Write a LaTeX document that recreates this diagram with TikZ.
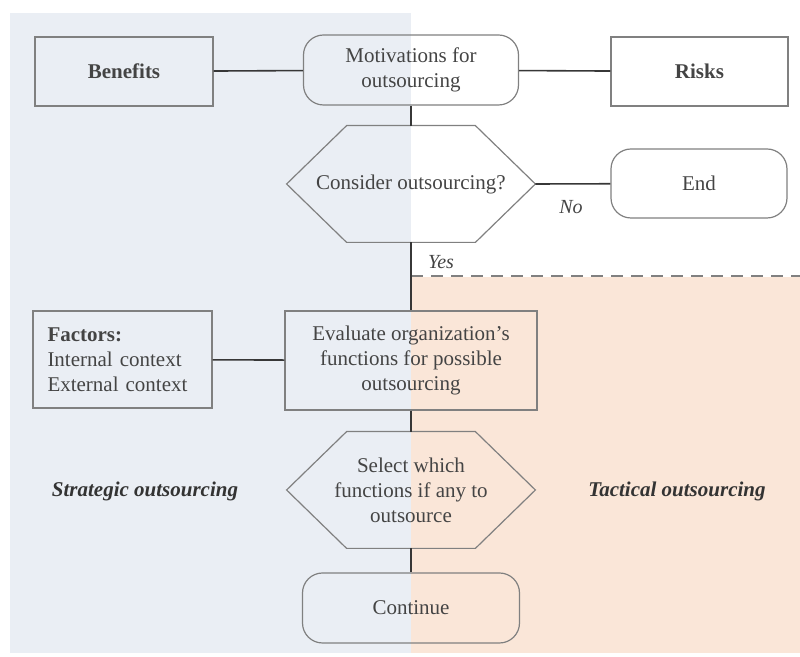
\documentclass[tikz,border=0pt]{standalone}
\usepackage{fontspec}
\setmainfont{Liberation Serif}
\usetikzlibrary{shapes,backgrounds,arrows}
\definecolor{stratblue}{RGB}{234,238,244}
\definecolor{tactpeach}{RGB}{250,230,216}
\definecolor{boxgray}{RGB}{128,128,128}
\definecolor{linegray}{RGB}{55,55,55}
\definecolor{textgray}{RGB}{68,68,68}

\begin{document}
\begin{tikzpicture}[x=0.5pt,y=-0.5pt,
	box/.style={draw=boxgray, line width=0.6pt, text=textgray, align=center,
		font=\fontsize{10.5}{12.5}\selectfont, inner sep=2pt},
	roundbox/.style={box, rounded corners=10pt},
	hexbox/.style={text=textgray, align=center, font=\fontsize{10.5}{12.5}\selectfont,
		minimum width=124pt, minimum height=58pt, inner sep=0pt},
	hexline/.style={draw=boxgray, line width=0.6pt},
	link/.style={draw=linegray, line width=0.8pt},
	answer/.style={text=textgray, font=\fontsize{10}{12}\selectfont\itshape},
	sidelabel/.style={text=black!80, font=\fontsize{10.5}{12.5}\selectfont\bfseries\itshape}]
			\useasboundingbox (0,0) rectangle (800,657);
			% Background panels
			\fill[stratblue] (10,13) rectangle (411,653);
			\fill[tactpeach] (411,277) rectangle (800,653);
			\draw[boxgray, line width=0.6pt, dash pattern=on 6pt off 4pt] (411,276) -- (800,276);
			% Top row
			\node[box, minimum width=89pt, minimum height=34.5pt] (benefits) at (124,71.5) {\bfseries Benefits};
			\node[roundbox, minimum width=107.5pt, minimum height=35pt] (motiv) at (411,70) {Motivations for\\outsourcing};
			\node[box, minimum width=88.5pt, minimum height=34.5pt] (risks) at (699.5,71.5) {\bfseries Risks};
			% Decision
			\node[hexbox] (consider) at (411,184) {Consider outsourcing?};
			\draw[hexline] (consider.west) -- ([xshift=30pt]consider.north west) -- ([xshift=-30pt]consider.north east)
				-- (consider.east) -- ([xshift=-30pt]consider.south east) -- ([xshift=30pt]consider.south west) -- cycle;
			\node[roundbox, minimum width=88pt, minimum height=34.5pt] (end) at (699,183.5) {End};
			\node[answer] (no) at (571,207) {No};
			\node[answer] (yes) at (441,262) {Yes};
			% Bottom part
			\node[box, minimum width=89.5pt, minimum height=48.5pt, align=left, text width=75pt, inner sep=0pt] (factors) at (122.5,359.5)
				{\textbf{Factors:}\\Internal context\\External context};
			\node[box, minimum width=126pt, minimum height=49.5pt] (evaluate) at (411,360.5) {Evaluate organization's\\functions for possible\\outsourcing};
			\node[hexbox] (select) at (411,490) {Select which\\functions if any to\\outsource};
			\draw[hexline] (select.west) -- ([xshift=30pt]select.north west) -- ([xshift=-30pt]select.north east)
				-- (select.east) -- ([xshift=-30pt]select.south east) -- ([xshift=30pt]select.south west) -- cycle;
			\node[roundbox, minimum width=108.5pt, minimum height=35pt] (continue) at (411,608) {Continue};
			\node[sidelabel] (strategic) at (145,491) {Strategic outsourcing};
			\node[sidelabel] (tactical) at (677,491) {Tactical outsourcing};
			% Connectors
			\draw[link] (benefits) -- (motiv);
			\draw[link] (motiv) -- (risks);
			\draw[link] (motiv) -- (consider.north);
			\draw[link] (consider.east) -- (end);
			\draw[link] (consider.south) -- (evaluate);
			\draw[link] (factors) -- (evaluate);
			\draw[link] (evaluate) -- (select.north);
			\draw[link] (select.south) -- (continue);
\end{tikzpicture}
\end{document}
